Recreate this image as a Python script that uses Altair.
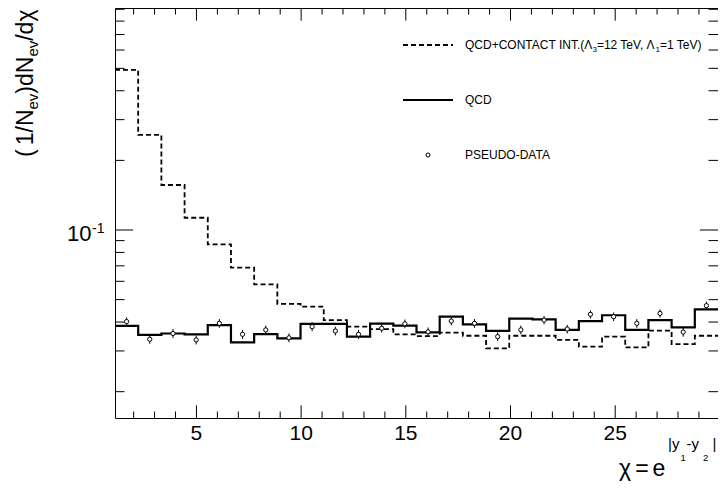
import altair as alt
import pandas as pd

# ---------------- data ----------------
chi_lo, chi_hi, n_bins = 1.11, 29.91, 26

qcd = [0.0385, 0.0352, 0.0357, 0.0354, 0.0388, 0.0327, 0.0355, 0.0340, 0.0393,
       0.0393, 0.0346, 0.0394, 0.0386, 0.0361, 0.0422, 0.0391, 0.0366, 0.0414,
       0.0411, 0.0370, 0.0404, 0.0428, 0.0370, 0.0408, 0.0379, 0.0454]

contact = [0.492, 0.2576, 0.1565, 0.113, 0.0867, 0.0687, 0.0582, 0.0479, 0.0466,
           0.0408, 0.0382, 0.0373, 0.0354, 0.0348, 0.0360, 0.0349, 0.0308, 0.0349,
           0.0349, 0.0335, 0.0313, 0.0346, 0.0311, 0.0367, 0.0321, 0.0349]

pseudo = [0.0402, 0.0337, 0.0357, 0.0335, 0.0395, 0.0354, 0.0370, 0.0342, 0.0382,
          0.0366, 0.0354, 0.0376, 0.0393, 0.0363, 0.0404, 0.0395, 0.0346, 0.0370,
          0.0408, 0.0373, 0.0432, 0.0422, 0.0395, 0.0436, 0.0362, 0.0471]

pseudo_err = [0.0017, 0.0015, 0.0016, 0.0015, 0.0017, 0.0016, 0.0016, 0.0015, 0.0017,
              0.0016, 0.0016, 0.0016, 0.0017, 0.0016, 0.0017, 0.0017, 0.0015, 0.0016,
              0.0017, 0.0016, 0.0018, 0.0018, 0.0017, 0.0018, 0.0016, 0.0019]

x_major = [5, 10, 15, 20, 25]
x_minor = [2, 3, 4, 6, 7, 8, 9, 11, 12, 13, 14, 16, 17, 18, 19,
           21, 22, 23, 24, 26, 27, 28, 29]
y_major = [0.1]
y_minor = [0.02, 0.03, 0.04, 0.05, 0.06, 0.07, 0.08, 0.09,
           0.2, 0.3, 0.4, 0.5, 0.6, 0.7, 0.8, 0.9]

legend_labels = ["QCD+CONTACT INT.(Λ", "3", "=12 TeV, Λ", "1", "=1 TeV)"]

# ---------------- layout ----------------
FONT = "Liberation Sans"
W, H = 603, 410
y_dom = [0.01539, 0.9116]

bw = (chi_hi - chi_lo) / n_bins
edges = [chi_lo + i * bw for i in range(n_bins + 1)]
centers = [chi_lo + (i + 0.5) * bw for i in range(n_bins)]


def steps(vals):
    rows = []
    for i, v in enumerate(vals):
        rows.append({"x": edges[i], "y": v, "o": 2 * i})
        rows.append({"x": edges[i + 1], "y": v, "o": 2 * i + 1})
    return pd.DataFrame(rows)


xs = alt.Scale(domain=[chi_lo, chi_hi], nice=False, zero=False)
ys = alt.Scale(type="log", domain=y_dom, nice=False)

X = lambda f: alt.X(f, type="quantitative", scale=xs, axis=None)
Y = lambda f: alt.Y(f, type="quantitative", scale=ys, axis=None)

layers = []

# histograms
layers.append(alt.Chart(steps(contact)).mark_line(
    color="black", strokeWidth=1.8, strokeDash=[5, 3]).encode(
    x=X("x"), y=Y("y"), order="o:Q"))
layers.append(alt.Chart(steps(qcd)).mark_line(
    color="black", strokeWidth=2.2).encode(
    x=X("x"), y=Y("y"), order="o:Q"))

# pseudo data
pdf = pd.DataFrame({"c": centers, "v": pseudo,
                    "lo": [v - e for v, e in zip(pseudo, pseudo_err)],
                    "hi": [v + e for v, e in zip(pseudo, pseudo_err)]})
layers.append(alt.Chart(pdf).mark_rule(color="black", strokeWidth=1).encode(
    x=X("c"), y=Y("lo"), y2="hi"))
layers.append(alt.Chart(pdf).mark_point(
    shape="circle", filled=True, fill="white", stroke="black",
    strokeWidth=1, size=18, opacity=1).encode(x=X("c"), y=Y("v")))

# ticks (inward, ROOT style, all four sides)
ymin_df = pd.DataFrame({"v": y_minor})
ymaj_df = pd.DataFrame({"v": y_major})
xmin_df = pd.DataFrame({"v": x_minor})
xmaj_df = pd.DataFrame({"v": x_major})
for df, ln in [(ymin_df, 9.5), (ymaj_df, 18)]:
    layers.append(alt.Chart(df).mark_rule(color="black", strokeWidth=1).encode(
        y=Y("v"), x=alt.value(0), x2=alt.value(ln)))
    layers.append(alt.Chart(df).mark_rule(color="black", strokeWidth=1).encode(
        y=Y("v"), x=alt.value(W - ln), x2=alt.value(W)))
for df, ln in [(xmin_df, 6.5), (xmaj_df, 12.7)]:
    layers.append(alt.Chart(df).mark_rule(color="black", strokeWidth=1).encode(
        x=X("v"), y=alt.value(0), y2=alt.value(ln)))
    layers.append(alt.Chart(df).mark_rule(color="black", strokeWidth=1).encode(
        x=X("v"), y=alt.value(H - ln), y2=alt.value(H)))

# x tick labels
xl = pd.DataFrame({"v": x_major, "t": [str(v) for v in x_major]})
layers.append(alt.Chart(xl).mark_text(
    font=FONT, fontSize=21, align="center", baseline="alphabetic", color="black").encode(
    x=X("v"), y=alt.value(432), text="t:N"))

# y tick label 10^-1
yl = pd.DataFrame({"v": y_major, "b": ["10"], "e": ["-1"]})
layers.append(alt.Chart(yl).mark_text(
    font=FONT, fontSize=22, align="right", baseline="alphabetic", dy=10.5,
    color="black").encode(x=alt.value(-23.5), y=Y("v"), text="b:N"))
layers.append(alt.Chart(yl).mark_text(
    font=FONT, fontSize=14, align="left", baseline="alphabetic", dy=3.3,
    color="black").encode(x=alt.value(-23), y=Y("v"), text="e:N"))


def txt(t, x, y, size, angle=0, align="left"):
    kw = dict(font=FONT, fontSize=size, align=align, baseline="alphabetic",
              color="black", text=t)
    if angle:
        kw["angle"] = angle
    return alt.Chart(pd.DataFrame({"a": [0]})).mark_text(**kw).encode(
        x=alt.value(x), y=alt.value(y))


# y title: (1/N_ev)dN_ev/dχ  (rotated)
layers += [
    txt("(", -82, 149, 23, 270),
    txt("1/N", -82, 137.3, 23, 270),
    txt("ev", -77, 101.5, 15, 270),
    txt(")dN", -82, 85.7, 23, 270),
    txt("ev", -77, 48.6, 15, 270),
    txt("/dχ", -82, 32.8, 23, 270),
]

# x title: χ = e^{|y_1-y_2|}
tb = 468
xr = W - 51
layers += [
    txt("χ", xr - 42, tb, 23, align="center"),
    txt("=", xr - 25, tb, 23, align="center"),
    txt("e", xr - 8, tb, 23, align="center"),
    txt("|y", xr + 1, tb - 27, 15),
    txt("1", xr + 13.5, tb - 15, 9.5),
    txt("-y", xr + 19.5, tb - 27, 15),
    txt("2", xr + 36, tb - 15, 9.5),
    txt("|", xr + 45.5, tb - 27, 15),
]

# legend
lx0, lx1, tx = 288, 338, 350
r1, r2, r3 = 37, 92, 147
dummy = pd.DataFrame({"a": [0]})
layers.append(alt.Chart(dummy).mark_rule(
    color="black", strokeWidth=1.8, strokeDash=[5, 3]).encode(
    x=alt.value(lx0), x2=alt.value(lx1), y=alt.value(r1)))
layers.append(alt.Chart(dummy).mark_rule(
    color="black", strokeWidth=2.2).encode(
    x=alt.value(lx0), x2=alt.value(lx1), y=alt.value(r2)))
layers.append(alt.Chart(dummy).mark_point(
    shape="circle", filled=True, fill="white", stroke="black",
    strokeWidth=1, size=16, opacity=1).encode(
    x=alt.value((lx0 + lx1) / 2), y=alt.value(r3)))

b1, b2, b3 = r1 + 4.3, r2 + 4.3, r3 + 4.3
layers += [
    txt(legend_labels[0], tx, b1, 12),
    txt(legend_labels[1], tx + 127.5, b1 + 3, 8),
    txt(legend_labels[2], tx + 131.9, b1, 12),
    txt(legend_labels[3], tx + 190.5, b1 + 3, 8),
    txt(legend_labels[4], tx + 195.0, b1, 12),
    txt("QCD", tx, b2, 12),
    txt("PSEUDO-DATA", tx, b3, 12),
]

chart = alt.layer(*layers).properties(
    width=W, height=H,
    autosize=alt.AutoSizeParams(type="none"),
    padding={"left": 107, "top": 0, "right": 0, "bottom": 63},
    background="white",
).configure_view(stroke="black", strokeWidth=1)

chart.save("out.html", embed_options={"renderer": "svg", "actions": False})
